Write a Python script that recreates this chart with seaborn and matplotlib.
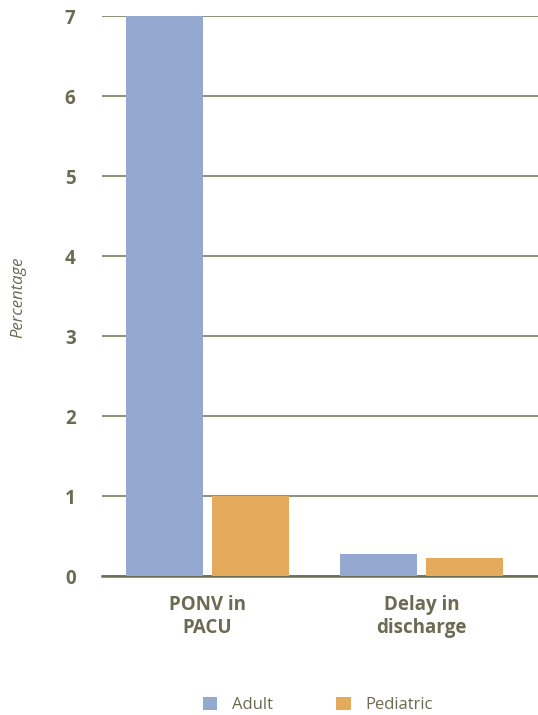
import matplotlib
matplotlib.use("Agg")
import matplotlib.pyplot as plt
import seaborn as sns
import pandas as pd
from matplotlib.patches import Patch

categories = ["PONV in\nPACU", "Delay in\ndischarge"]
series = ["Adult", "Pediatric"]
adult = [7.0, 0.27]
pediatric = [1.0, 0.22]
yticks = [0, 1, 2, 3, 4, 5, 6, 7]

colors = {"Adult": "#94a8d0", "Pediatric": "#e5ab5c"}
text_color = "#6b6b52"
grid_color = "#7b7b62"

df = pd.DataFrame({
    "category": categories * 2,
    "group": [series[0]] * 2 + [series[1]] * 2,
    "value": adult + pediatric,
})

sns.set_theme(style="white")
plt.rcParams["font.family"] = ["Open Sans", "DejaVu Sans"]

fig = plt.figure(figsize=(5.38, 7.15), dpi=100)
ax = fig.add_axes([102 / 538, 1 - 576 / 715, 1 - 102 / 538, (576 - 16) / 715])

sns.barplot(data=df, x="category", y="value", hue="group", palette=colors,
            width=0.8, gap=0.1, saturation=1, ax=ax, legend=False, zorder=3,
            linewidth=0, edgecolor="none")

ax.set_ylim(0, 7)
ax.set_xlim(-0.493, 1.544)
ax.set_yticks(yticks)
ax.set_yticklabels([str(t) for t in yticks], fontsize=13.5, fontweight="bold", color=text_color)
ax.tick_params(axis="y", length=0, pad=19)
ax.tick_params(axis="x", length=0, pad=14)
for lbl in ax.get_xticklabels():
    lbl.set_fontsize(13.5)
    lbl.set_fontweight("bold")
    lbl.set_color(text_color)
    lbl.set_linespacing(1.2)
ax.grid(axis="y", color=grid_color, linewidth=1.2, zorder=0)
ax.set_axisbelow(True)
for s in ["left", "right", "top"]:
    ax.spines[s].set_visible(False)
ax.spines["bottom"].set_color("#6e6e52")
ax.spines["bottom"].set_linewidth(1.8)
ax.set_xlabel("")
ax.set_ylabel("")
fig.text(18 / 538, 1 - 297 / 715, "Percentage", rotation=90, ha="center", va="center",
         fontsize=12, fontstyle="italic", color=text_color)

handles = [Patch(facecolor=colors[s], edgecolor="none") for s in series]
fig.legend(handles, series, loc="center", bbox_to_anchor=(318 / 538, 1 - 705 / 715), ncol=2,
           frameon=False, fontsize=12, labelcolor=text_color, handlelength=0.85,
           handleheight=0.85, handletextpad=0.9, columnspacing=3.8)

fig.savefig("out.png", dpi=100)
